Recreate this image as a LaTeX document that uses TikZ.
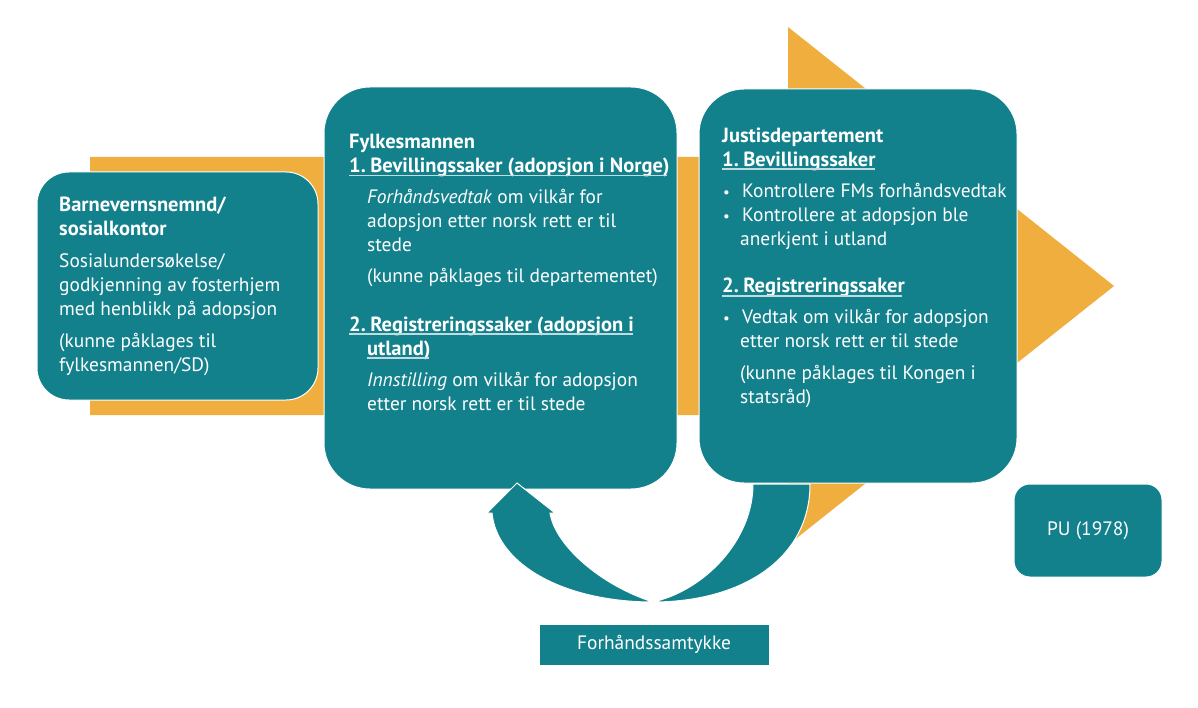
\documentclass[tikz,border=0pt]{standalone}
\usepackage{fontspec}
\setmainfont{PT Sans}
\definecolor{tealc}{HTML}{13818C}
\definecolor{orangec}{HTML}{F0AE3E}
\definecolor{ulc}{HTML}{BFDDE0}
\newcommand\bodyfnt{\fontsize{19.4}{24}\selectfont}
\newcommand\hd[1]{{\fontsize{20.5}{24}\selectfont\bfseries #1}}
\newcommand\ind{\hspace*{18pt}}
\newcommand\nsp{\hspace{4.5pt}}
\newcommand\bul{\makebox[20pt][l]{\hspace*{1pt}\raisebox{0.5pt}{\fontsize{15}{24}\selectfont•}}}
\begin{document}
\begin{tikzpicture}[x=1pt,y=-1pt,
  box/.style={fill=tealc,draw=white,line width=1pt,inner sep=0pt,rounded corners=#1},
  txt/.style={anchor=base west,inner sep=0pt,text=white,font=\bodyfnt},
  band/.style={fill=tealc,draw=white,line width=1pt},
  ul/.style={draw=ulc,line width=1.2pt}]
\useasboundingbox (0,0) rectangle (1198,708);
% big orange arrow
\fill[orangec] (90,157) -- (788,157) -- (788,27) -- (1114,286) -- (788,545) -- (788,415) -- (90,415) -- cycle;
% boxes
\node[box=32pt,minimum width=281pt,minimum height=228pt] (bv) at (177.5,286) {};
\node[box=46pt,minimum width=353pt,minimum height=402pt] (fm) at (500.5,288) {};
\node[box=45pt,minimum width=318pt,minimum height=394pt] (jd) at (858,286) {};
\node[box=16pt,minimum width=148pt,minimum height=93pt,text=white,font=\bodyfnt] (pu) at (1088,530.5) {PU (1978)};
\node[box=0pt,minimum width=230pt,minimum height=41pt,text=white,font=\bodyfnt] (fs) at (654,644.5) {Forhåndssamtykke};
% circular arrow
\draw[band] (753,484) -- (810,484) .. controls (810,560) and (740,602) .. (653,602)
  .. controls (705,590) and (753,540) .. (753,484) -- cycle;
\draw[band] (653,602) .. controls (565,602) and (497,565) .. (492,513) -- (487,513) -- (517,483)
  -- (555,513) -- (550,513) .. controls (555,545) and (600,585) .. (653,602) -- cycle;
% texts
\node[txt] (bvt) at (59,212) {\parbox[t]{300pt}{\raggedright\lineskiplimit=-50pt
\hd{Barnevernsnemnd/}\\
\hd{sosialkontor}\\[8pt]
Sosialundersøkelse/\\
godkjenning av fosterhjem\\
med henblikk på adopsjon\\[8pt]
(kunne påklages til\\
fylkesmannen/SD)}};
\node[txt] (fmt) at (349,149) {\parbox[t]{400pt}{\raggedright\lineskiplimit=-50pt
\hd{Fylkesmannen}\\
\hd{1.\nsp Bevillingssaker (adopsjon i Norge)}\\[7pt]
\ind\textit{Forhåndsvedtak} om vilkår for\\
\ind adopsjon etter norsk rett er til\\
\ind stede\\[7pt]
\ind(kunne påklages til departementet)\\[25pt]
\hd{2.\nsp Registreringssaker (adopsjon i}\\
\ind\hd{utland)}\\[7pt]
\ind\textit{Innstilling} om vilkår for adopsjon\\
\ind etter norsk rett er til stede}};
\node[txt] (jdt) at (722,143) {\parbox[t]{400pt}{\raggedright\lineskiplimit=-50pt
\hd{Justisdepartement}\\
\hd{1.\nsp Bevillingssaker}\\[7pt]
\bul Kontrollere FMs forhåndsvedtak\\
\bul Kontrollere at adopsjon ble\\
\ind anerkjent i utland\\[23pt]
\hd{2.\nsp Registreringssaker}\\[7pt]
\bul Vedtak om vilkår for adopsjon\\
\ind etter norsk rett er til stede\\[8pt]
\ind(kunne påklages til Kongen i\\
\ind statsråd)}};
% underlines
\draw[ul] (349,175.5) -- (667,175.5);
\draw[ul] (349,334) -- (633,334);
\draw[ul] (367,358) -- (429,358);
\draw[ul] (722,169) -- (875,169);
\draw[ul] (722,296) -- (902,296);
\end{tikzpicture}
\end{document}
